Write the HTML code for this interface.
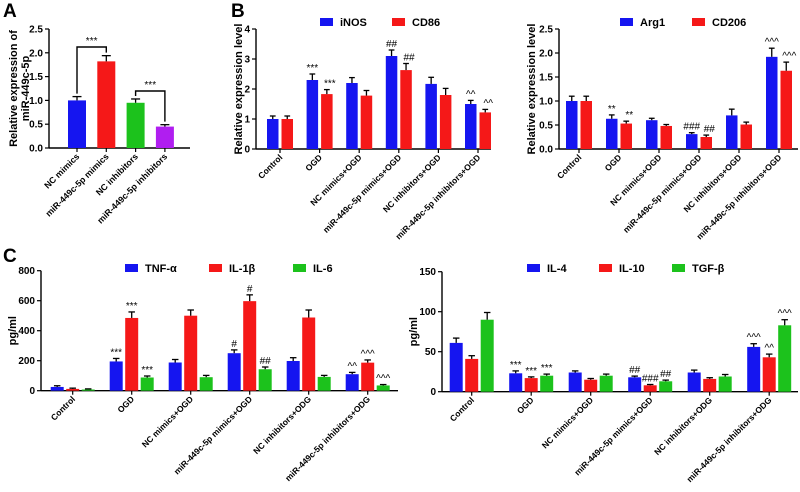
<!DOCTYPE html>
<html><head><meta charset="utf-8"><style>
html,body{margin:0;padding:0;background:#fff;}
svg{display:block;font-family:"Liberation Sans",Arial,sans-serif;font-weight:bold;}
</style></head><body>
<svg id="fig" width="800" height="492" viewBox="0 0 800 492">
<text x="3" y="17" font-size="19">A</text>
<text x="231" y="17" font-size="19">B</text>
<text x="3" y="262" font-size="19">C</text>
</svg>
<script>
// ---- Panel A data ----
const aCategories = ["NC mimics","miR-449c-5p mimics","NC inhibitors","miR-449c-5p inhibitors"];
const aValues = [1.0,1.82,0.95,0.45];
const aErrors = [0.08,0.12,0.08,0.04];
const aTicks = [0,0.5,1.0,1.5,2.0,2.5];
// ---- Panel B left ----
const bCategories = ["Control","OGD","NC mimics+OGD","miR-449c-5p mimics+OGD","NC inhibitors+OGD","miR-449c-5p inhibitors+OGD"];
const iNOS = [1.0,2.3,2.2,3.1,2.17,1.5];
const iNOSErr = [0.1,0.2,0.18,0.2,0.22,0.12];
const iNOSSig = ["","***","","##","","^^"];
const CD86 = [1.0,1.83,1.78,2.63,1.8,1.22];
const CD86Err = [0.1,0.15,0.17,0.22,0.22,0.1];
const CD86Sig = ["","***","","##","","^^"];
const bLeftTicks = [0,1,2,3,4];
// ---- Panel B right ----
const Arg1 = [1.0,0.63,0.6,0.31,0.7,1.92];
const Arg1Err = [0.1,0.08,0.04,0.03,0.13,0.18];
const Arg1Sig = ["","**","","###","","^^^"];
const CD206 = [1.0,0.53,0.48,0.25,0.51,1.63];
const CD206Err = [0.1,0.05,0.03,0.04,0.05,0.18];
const CD206Sig = ["","**","","##","","^^^"];
const bRightTicks = [0,0.5,1.0,1.5,2.0,2.5];
// ---- Panel C ----
const cCategories = ["Control","OGD","NC mimics+OGD","miR-449c-5p mimics+OGD","NC inhibitors+ODG","miR-449c-5p inhibitors+ODG"];
const TNF = [25,195,188,250,198,110];
const TNFErr = [8,20,20,22,22,12];
const TNFSig = ["","***","","#","","^^"];
const IL1b = [12,485,500,597,488,187];
const IL1bErr = [5,40,38,42,50,18];
const IL1bSig = ["","***","","#","","^^^"];
const IL6 = [8,88,90,143,92,35];
const IL6Err = [4,10,12,15,10,6];
const IL6Sig = ["","***","","##","","^^^"];
const cLeftTicks = [0,200,400,600,800];
const IL4 = [61,23,24,18,24,56];
const IL4Err = [6,3,2,1.5,3,4];
const IL4Sig = ["","***","","##","","^^^"];
const IL10 = [41,17,15,8,16,43];
const IL10Err = [4,1.5,1.5,1,1.5,4];
const IL10Sig = ["","***","","###","","^^"];
const TGFb = [90,20,20,13,19,83];
const TGFbErr = [9,2,2,1.5,2.5,7];
const TGFbSig = ["","***","","##","","^^^"];
const cRightTicks = [0,50,100,150];

const NS="http://www.w3.org/2000/svg";
const fig=document.getElementById('fig');
function mk(tag,attrs,parent){const e=document.createElementNS(NS,tag);for(const k in attrs)e.setAttribute(k,attrs[k]);(parent||fig).appendChild(e);return e;}

function panel(p){
  const g=mk('g',{});
  
  
  const y=v=>p.y0-(v-p.ticks[0])/(p.ticks[p.ticks.length-1]-p.ticks[0])*(p.y0-p.yTop);
  const x=i=>p.x0+i*p.step;
  const ya=mk('line',{x1:p.ax,y1:p.yTop,x2:p.ax,y2:p.y0,stroke:'#000','stroke-width':1.4},g);
  
  
  const xa=mk('line',{x1:p.ax,y1:p.y0,x2:p.axEnd,y2:p.y0,stroke:'#000','stroke-width':1.4},g);
  
  
  p.ticks.forEach(t=>{
    mk('line',{x1:p.ax-4,y1:y(t),x2:p.ax,y2:y(t),stroke:'#000','stroke-width':1.2},g);
    const tl=mk('text',{x:p.ax-6,y:y(t)+3.5,'font-size':10,'text-anchor':'end'},g);
    tl.textContent=p.fmt(t);
    
    
  });
  p.cats.forEach((c,i)=>{
    mk('line',{x1:x(i),y1:p.y0,x2:x(i),y2:p.y0+4,stroke:'#000','stroke-width':1.2},g);
    const cx=x(i)+3, cy=p.y0+9;
    const tl=mk('text',{x:cx,y:cy,'font-size':p.catSize||10,'text-anchor':'end',transform:`rotate(-45 ${cx} ${cy})`},g);
    tl.textContent=c;
    
    
  });
  const n=p.series.length, bw=p.bw, gap=p.gap;
  const total=n*bw+(n-1)*gap;
  p.series.forEach((s,si)=>{
    s.vals.forEach((v,i)=>{
      const bx=x(i)-total/2+si*(bw+gap);
      const col=s.colors?s.colors[i]:s.color;
      const r=mk('rect',{x:bx,y:y(v),width:bw,height:p.y0-y(v),fill:col},g);
      
      
      const te=y(v+s.err[i]);
      mk('line',{x1:bx+bw/2,y1:y(v),x2:bx+bw/2,y2:te,stroke:'#000','stroke-width':1.3},g);
      mk('line',{x1:bx+bw/4,y1:te,x2:bx+3*bw/4,y2:te,stroke:'#000','stroke-width':1.3},g);
      if(s.sig&&s.sig[i]){
        const st=mk('text',{x:bx+bw/2+(s.sigDx||0),y:te-3,'font-size':10,'text-anchor':'middle','font-weight':'normal'},g);
        st.textContent=s.sig[i];
        
        
      }
    });
  });
  p.ytitle.forEach((t,k)=>{
    const tx=p.ytx+k*(p.yts||14), ty=(p.yTop+p.y0)/2;
    const yt=mk('text',{x:tx,y:ty,'font-size':11,'text-anchor':'middle',transform:`rotate(-90 ${tx} ${ty})`},g);
    yt.textContent=t;
    
    
  });
  (p.legend||[]).forEach(l=>{
    const lr=mk('rect',{x:l.x,y:l.y-4,width:13,height:8,fill:l.color},g);
    
    
    const lt=mk('text',{x:l.x+20,y:l.y+4,'font-size':11},g);
    lt.textContent=l.label;
    
    
  });
  return {g,x,y};
}
const B='#1515f0',R='#f51818',G='#1cc21c',P='#b01ef0';
const pa=panel({name:'panel-a-chart',ax:49,axEnd:190,y0:148,yTop:29,ticks:aTicks,fmt:t=>t.toFixed(1),
  x0:77,step:29.3,cats:aCategories,bw:18,gap:0,catSize:8.8,
  series:[{key:'mir',vals:aValues,err:aErrors,colors:[B,R,G,P]}],
  ytitle:['Relative expression of','miR-449c-5p'],ytx:17,yts:12});
[[0,1,47],[2,3,91]].forEach(([i,j,by])=>{
  const xi=pa.x(i),xj=pa.x(j);
  const yi=pa.y(aValues[i]+aErrors[i])-3, yj=pa.y(aValues[j]+aErrors[j])-3;
  const br=mk('path',{d:`M${xi} ${yi} L${xi} ${by} L${xj} ${by} L${xj} ${yj}`,fill:'none',stroke:'#000','stroke-width':1.4},pa.g);
  
  
  const st=mk('text',{x:(xi+xj)/2,y:by-3,'font-size':10,'text-anchor':'middle','font-weight':'normal'},pa.g);
  st.textContent='***';
  
  
});
panel({name:'panel-b-left-chart',ax:256,axEnd:491,y0:149,yTop:29,ticks:bLeftTicks,fmt:t=>String(t),
  x0:280,step:39.6,cats:bCategories,bw:11.5,gap:3,catSize:8.5,
  series:[{key:'inos',vals:iNOS,err:iNOSErr,color:B,sig:iNOSSig},{key:'cd86',vals:CD86,err:CD86Err,color:R,sig:CD86Sig,sigDx:3}],
  ytitle:['Relative expression level'],ytx:242,
  legend:[{x:320,y:22,color:B,label:'iNOS'},{x:392,y:22,color:R,label:'CD86'}]});
panel({name:'panel-b-right-chart',ax:559,axEnd:798,y0:149,yTop:29,ticks:bRightTicks,fmt:t=>t.toFixed(1),
  x0:579,step:40,cats:bCategories,bw:11.5,gap:3,catSize:8.5,
  series:[{key:'arg1',vals:Arg1,err:Arg1Err,color:B,sig:Arg1Sig},{key:'cd206',vals:CD206,err:CD206Err,color:R,sig:CD206Sig,sigDx:3}],
  ytitle:['Relative expression level'],ytx:535,
  legend:[{x:620,y:22,color:B,label:'Arg1'},{x:692,y:22,color:R,label:'CD206'}]});
panel({name:'panel-c-left-chart',ax:41,axEnd:398,y0:390.7,yTop:270.7,ticks:cLeftTicks,fmt:t=>String(t),
  x0:72.7,step:59,cats:cCategories,bw:13,gap:2.5,catSize:8.5,
  series:[{key:'tnf',vals:TNF,err:TNFErr,color:B,sig:TNFSig},{key:'il1b',vals:IL1b,err:IL1bErr,color:R,sig:IL1bSig},{key:'il6',vals:IL6,err:IL6Err,color:G,sig:IL6Sig}],
  ytitle:['pg/ml'],ytx:16,
  legend:[{x:125,y:268,color:B,label:'TNF-α'},{x:209,y:268,color:R,label:'IL-1β'},{x:293,y:268,color:G,label:'IL-6'}]});
panel({name:'panel-c-right-chart',ax:442,axEnd:798,y0:391.7,yTop:271.7,ticks:cRightTicks,fmt:t=>String(t),
  x0:471.7,step:59.5,cats:cCategories,bw:13,gap:2.5,catSize:8.5,
  series:[{key:'il4',vals:IL4,err:IL4Err,color:B,sig:IL4Sig},{key:'il10',vals:IL10,err:IL10Err,color:R,sig:IL10Sig},{key:'tgfb',vals:TGFb,err:TGFbErr,color:G,sig:TGFbSig}],
  ytitle:['pg/ml'],ytx:417,
  legend:[{x:527,y:268,color:B,label:'IL-4'},{x:599,y:268,color:R,label:'IL-10'},{x:672,y:268,color:G,label:'TGF-β'}]});
</script>
</body></html>
